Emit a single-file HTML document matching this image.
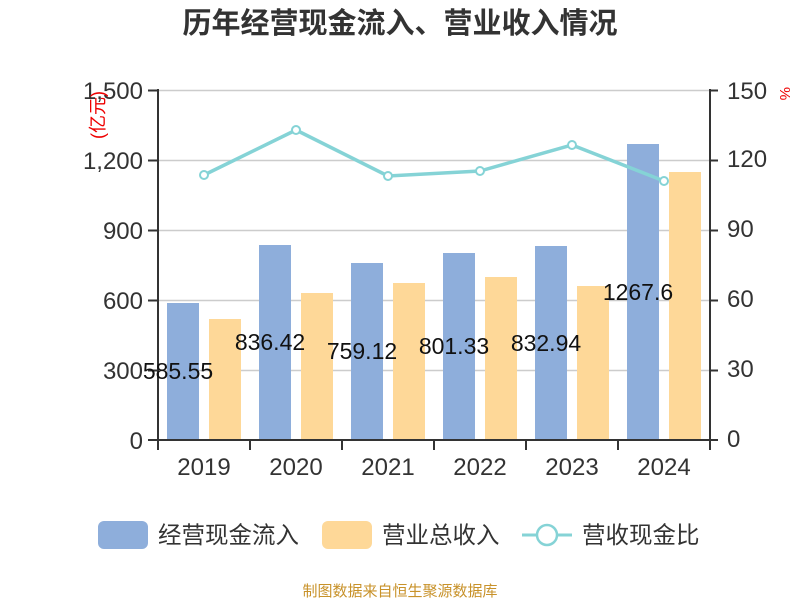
<!DOCTYPE html>
<html><head><meta charset="utf-8"><style>body{margin:0;background:#fff}svg{display:block}</style></head>
<body>
<svg width="800" height="600" xmlns="http://www.w3.org/2000/svg" font-family="'Liberation Sans','Noto Sans CJK SC',sans-serif">
<text x="400" y="33" text-anchor="middle" font-size="29" font-weight="bold" fill="#333">历年经营现金流入、营业收入情况</text>
<g stroke="#ccc" stroke-width="1.5">
<line x1="158" y1="90.5" x2="710" y2="90.5"/><line x1="158" y1="160.5" x2="710" y2="160.5"/>
<line x1="158" y1="230.5" x2="710" y2="230.5"/><line x1="158" y1="300.5" x2="710" y2="300.5"/>
<line x1="158" y1="370.5" x2="710" y2="370.5"/>
</g>
<g fill="#8eaedb">
<rect x="167" y="303" width="32" height="137"/><rect x="259" y="245" width="32" height="195"/>
<rect x="351" y="263" width="32" height="177"/><rect x="443" y="253" width="32" height="187"/>
<rect x="535" y="246" width="32" height="194"/><rect x="627" y="144" width="32" height="296"/>
</g>
<g fill="#fed898">
<rect x="209" y="319" width="32" height="121"/><rect x="301" y="293" width="32" height="147"/>
<rect x="393" y="283" width="32" height="157"/><rect x="485" y="277" width="32" height="163"/>
<rect x="577" y="286" width="32" height="154"/><rect x="669" y="172" width="32" height="268"/>
</g>
<g stroke="#333" stroke-width="2" fill="none">
<line x1="158" y1="89" x2="158" y2="441"/><line x1="710" y1="89" x2="710" y2="441"/>
<line x1="148" y1="440" x2="718" y2="440"/>
<path d="M148 90.5h10M148 160.5h10M148 230.5h10M148 300.5h10M148 370.5h10M710 90.5h8M710 160.5h8M710 230.5h8M710 300.5h8M710 370.5h8"/>
<path d="M158 440v10M250 440v10M342 440v10M434 440v10M526 440v10M618 440v10M710 440v10"/>
</g>
<g font-size="24" fill="#333" text-anchor="end">
<text x="143" y="99">1,500</text><text x="143" y="169">1,200</text><text x="143" y="239">900</text>
<text x="143" y="309">600</text><text x="143" y="379">300</text><text x="143" y="449">0</text>
</g>
<g font-size="24" fill="#333">
<text x="727" y="99">150</text><text x="727" y="167">120</text><text x="727" y="237">90</text>
<text x="727" y="307">60</text><text x="727" y="377">30</text><text x="727" y="447">0</text>
</g>
<text x="781" y="98" font-size="15" fill="#e00" transform="rotate(90 786 92)">%</text>
<text transform="translate(104 115) rotate(-90)" text-anchor="middle" font-size="18" fill="#e00">(亿元)</text>
<g font-size="24" fill="#333" text-anchor="middle">
<text x="204" y="475">2019</text><text x="296" y="475">2020</text><text x="388" y="475">2021</text>
<text x="480" y="475">2022</text><text x="572" y="475">2023</text><text x="664" y="475">2024</text>
</g>
<g font-size="23" fill="#111" text-anchor="middle">
<text x="178" y="379">585.55</text><text x="270" y="350">836.42</text><text x="362" y="359">759.12</text>
<text x="454" y="354">801.33</text><text x="546" y="351">832.94</text><text x="638" y="300">1267.6</text>
</g>
<polyline points="204,175 296,130 388,176 480,171 572,145 664,181" fill="none" stroke="#85d3d6" stroke-width="3.5"/>
<g fill="#fff" stroke="#85d3d6" stroke-width="2">
<circle cx="204" cy="175" r="4"/><circle cx="296" cy="130" r="4"/><circle cx="388" cy="176" r="4"/>
<circle cx="480" cy="171" r="4"/><circle cx="572" cy="145" r="4"/><circle cx="664" cy="181" r="4"/>
</g>
<rect x="98" y="521" width="50" height="28" rx="6" fill="#8eaedb"/>
<text x="158" y="543" font-size="23.5" fill="#333">经营现金流入</text>
<rect x="322" y="521" width="50" height="28" rx="6" fill="#fed898"/>
<text x="382" y="543" font-size="23.5" fill="#333">营业总收入</text>
<line x1="522" y1="535" x2="572" y2="535" stroke="#85d3d6" stroke-width="3"/>
<circle cx="547" cy="535" r="10" fill="#fff" stroke="#85d3d6" stroke-width="2.5"/>
<text x="582" y="543" font-size="23.5" fill="#333">营收现金比</text>
<text x="400" y="596" text-anchor="middle" font-size="15" fill="#c8922a">制图数据来自恒生聚源数据库</text>
</svg>
</body></html>
